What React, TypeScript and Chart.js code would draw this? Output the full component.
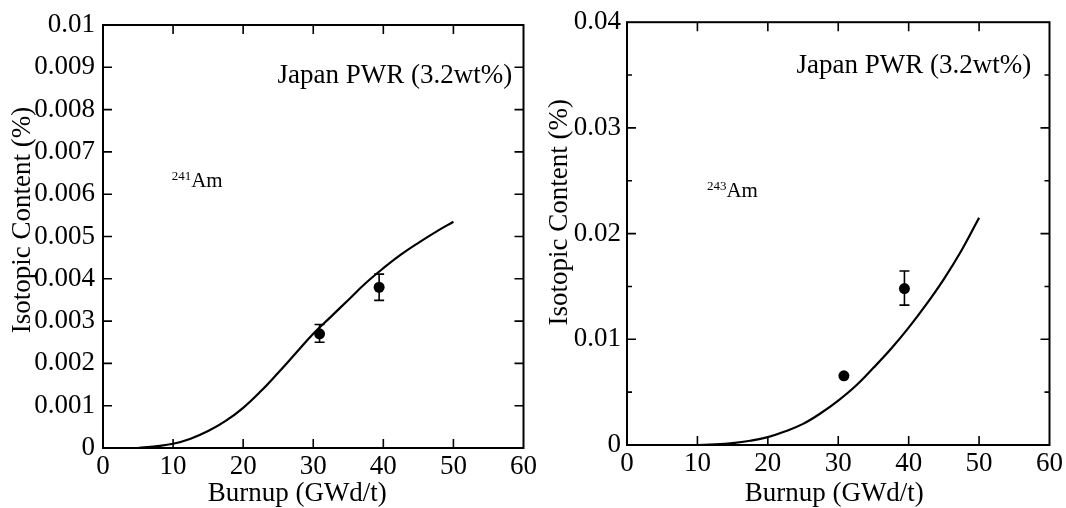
import React, { useEffect, useRef } from 'react';
import { Chart, registerables } from 'chart.js';

Chart.register(...registerables);

// ---- Data ----
const xTickValues = [0, 10, 20, 30, 40, 50, 60];

const am241CurveBurnup = [5, 7.5, 10, 12.5, 15, 17.5, 20, 22.5, 25, 27.5, 30, 32.5, 35, 37.5, 40, 42.5, 45, 47.5, 50];
const am241CurveValues = [0.0, 0.00004, 0.0001, 0.00022, 0.0004, 0.00064, 0.00095, 0.00134, 0.00178, 0.00224, 0.0027, 0.0031, 0.0035, 0.0039, 0.00425, 0.00457, 0.00485, 0.00511, 0.00535];
const am241MeasuredBurnup = [30.9, 39.4];
const am241MeasuredValues = [0.0027, 0.0038];
const am241ErrLow = [0.0025, 0.00349];
const am241ErrHigh = [0.00292, 0.00411];

const am243CurveBurnup = [10, 12.5, 15, 17.5, 20, 22.5, 25, 27.5, 30, 32.5, 35, 37.5, 40, 42.5, 45, 47.5, 50];
const am243CurveValues = [0.0, 0.00005, 0.00017, 0.0004, 0.00075, 0.0013, 0.002, 0.003, 0.0042, 0.0056, 0.0073, 0.0091, 0.0111, 0.0133, 0.0157, 0.0184, 0.0215];
const am243MeasuredBurnup = [30.8, 39.4];
const am243MeasuredValues = [0.00655, 0.0148];
const am243ErrLow: (number | null)[] = [null, 0.01323];
const am243ErrHigh: (number | null)[] = [null, 0.01646];

const noteText = 'Japan PWR (3.2wt%)';
const xTitle = 'Burnup (GWd/t)';
const yTitle = 'Isotopic Content (%)';

const FONT = '"Liberation Serif", "Times New Roman", serif';
const TICK_SIZE = 27;
const TITLE_SIZE = 27;

type Panel = {
  width: number;
  area: { left: number; top: number; right: number; bottom: number };
  curveX: number[];
  curveY: number[];
  ptsX: number[];
  ptsY: number[];
  errLo: (number | null)[];
  errHi: (number | null)[];
  yMax: number;
  yStep: number;
  yLabelStep: number;
  yPad: number;
  mass: string;
  massPos: [number, number];
  notePos: [number, number];
  yTitleDx: number;
  yTitleDy: number;
  xTitleDx: number;
};

const panels: Panel[] = [
  {
    width: 540,
    area: { left: 103, top: 25, right: 525, bottom: 448 },
    curveX: am241CurveBurnup,
    curveY: am241CurveValues,
    ptsX: am241MeasuredBurnup,
    ptsY: am241MeasuredValues,
    errLo: am241ErrLow,
    errHi: am241ErrHigh,
    yMax: 0.01,
    yStep: 0.001,
    yLabelStep: 0.001,
    yPad: 8,
    mass: '241',
    massPos: [9.8, 0.00617],
    notePos: [58.4, 0.00863],
    yTitleDx: -80,
    yTitleDy: 195,
    xTitleDx: -16,
  },
  {
    width: 526,
    area: { left: 87, top: 20, right: 510, bottom: 445 },
    curveX: am243CurveBurnup,
    curveY: am243CurveValues,
    ptsX: am243MeasuredBurnup,
    ptsY: am243MeasuredValues,
    errLo: am243ErrLow,
    errHi: am243ErrHigh,
    yMax: 0.04,
    yStep: 0.005,
    yLabelStep: 0.01,
    yPad: 6,
    mass: '243',
    massPos: [11.35, 0.02343],
    notePos: [57.4, 0.0352],
    yTitleDx: -67,
    yTitleDy: 190,
    xTitleDx: -4,
  },
];

const H = 508;

function fmt(v: number) {
  return String(Number(v.toFixed(6)));
}

function PanelChart({ p }: { p: Panel }) {
  const ref = useRef<HTMLCanvasElement | null>(null);

  useEffect(() => {
    if (!ref.current) return;
    const isLabeled = (v: number) => {
      const r = v / p.yLabelStep;
      return Math.abs(r - Math.round(r)) < 1e-6;
    };

    const framePlugin = {
      id: 'frame' + p.mass,
      afterDatasetsDraw(chart: any) {
        const ctx = chart.ctx as CanvasRenderingContext2D;
        const xs = chart.scales.x;
        const ys = chart.scales.y;
        ctx.save();
        ctx.strokeStyle = '#000';
        ctx.lineWidth = 1.6;
        p.ptsX.forEach((bx, i) => {
          const lo = p.errLo[i];
          const hi = p.errHi[i];
          if (lo == null || hi == null) return;
          const px = xs.getPixelForValue(bx);
          const pl = ys.getPixelForValue(lo);
          const ph = ys.getPixelForValue(hi);
          ctx.beginPath();
          ctx.moveTo(px, pl);
          ctx.lineTo(px, ph);
          ctx.moveTo(px - 5, pl);
          ctx.lineTo(px + 5, pl);
          ctx.moveTo(px - 5, ph);
          ctx.lineTo(px + 5, ph);
          ctx.stroke();
        });
        ctx.restore();
      },
      afterDraw(chart: any) {
        const ctx = chart.ctx as CanvasRenderingContext2D;
        const a = chart.chartArea;
        const xs = chart.scales.x;
        const ys = chart.scales.y;
        ctx.save();
        ctx.strokeStyle = '#000';
        ctx.lineWidth = 2;
        ctx.strokeRect(a.left, a.top, a.right - a.left, a.bottom - a.top);
        ctx.beginPath();
        ctx.lineWidth = 1.6;
        xs.ticks.forEach((t: any) => {
          if (t.value <= xs.min || t.value >= xs.max) return;
          const px = xs.getPixelForValue(t.value);
          ctx.moveTo(px, a.bottom);
          ctx.lineTo(px, a.bottom - 9);
          ctx.moveTo(px, a.top);
          ctx.lineTo(px, a.top + 9);
        });
        ys.ticks.forEach((t: any) => {
          if (t.value <= ys.min + 1e-9 || t.value >= ys.max - 1e-9) return;
          const py = ys.getPixelForValue(t.value);
          const len = isLabeled(t.value) ? 9 : 5;
          ctx.moveTo(a.left, py);
          ctx.lineTo(a.left + len, py);
          ctx.moveTo(a.right, py);
          ctx.lineTo(a.right - len, py);
        });
        ctx.stroke();

        ctx.fillStyle = '#000';
        ctx.font = `${TITLE_SIZE}px ${FONT}`;
        ctx.textAlign = 'right';
        ctx.textBaseline = 'alphabetic';
        ctx.fillText(noteText, xs.getPixelForValue(p.notePos[0]), ys.getPixelForValue(p.notePos[1]));
        const mx = xs.getPixelForValue(p.massPos[0]);
        const my = ys.getPixelForValue(p.massPos[1]);
        ctx.textAlign = 'left';
        ctx.font = `13px ${FONT}`;
        ctx.fillText(p.mass, mx, my - 7);
        const sw = ctx.measureText(p.mass).width;
        ctx.font = `21px ${FONT}`;
        ctx.fillText('Am', mx + sw, my);
        ctx.font = `${TITLE_SIZE}px ${FONT}`;
        ctx.textAlign = 'center';
        ctx.fillText(xTitle, (a.left + a.right) / 2 + p.xTitleDx, 501);
        ctx.save();
        ctx.translate(a.left + p.yTitleDx, a.top + p.yTitleDy);
        ctx.rotate(-Math.PI / 2);
        ctx.textBaseline = 'middle';
        ctx.textAlign = 'center';
        ctx.fillText(yTitle, 0, 0);
        ctx.restore();
        ctx.restore();
      },
    };

    const chart = new Chart(ref.current, {
      type: 'scatter',
      data: {
        datasets: [
          {
            data: p.curveX.map((x, i) => ({ x, y: p.curveY[i] })),
            showLine: true,
            borderColor: '#000',
            borderWidth: 2.2,
            pointRadius: 0,
            tension: 0.4,
          } as any,
          {
            data: p.ptsX.map((x, i) => ({ x, y: p.ptsY[i] })),
            backgroundColor: '#000',
            borderColor: '#000',
            pointRadius: 5.5,
            borderWidth: 0,
          },
        ],
      },
      options: {
        animation: false,
        responsive: false,
        layout: { padding: { top: p.area.top, right: p.width - p.area.right, left: 0, bottom: 0 } },
        plugins: { legend: { display: false }, tooltip: { enabled: false } },
        scales: {
          x: {
            type: 'linear',
            min: 0,
            max: 60,
            afterBuildTicks: (s: any) => {
              s.ticks = xTickValues.map((v) => ({ value: v }));
            },
            ticks: {
              autoSkip: false,
              maxRotation: 0,
              color: '#000',
              padding: 3,
              font: { family: FONT, size: TICK_SIZE },
              callback: (v: any) => fmt(Number(v)),
            },
            grid: { display: false, drawTicks: false },
            border: { display: false },
            afterFit: (s: any) => {
              s.height = H - p.area.bottom;
            },
          },
          y: {
            type: 'linear',
            min: 0,
            max: p.yMax,
            ticks: {
              stepSize: p.yStep,
              autoSkip: false,
              color: '#000',
              padding: p.yPad,
              font: { family: FONT, size: TICK_SIZE },
              callback: (v: any) => (isLabeled(Number(v)) ? fmt(Number(v)) : ''),
            },
            grid: { display: false, drawTicks: false },
            border: { display: false },
            afterFit: (s: any) => {
              s.width = p.area.left;
            },
          },
        },
      } as any,
      plugins: [framePlugin],
    });
    return () => chart.destroy();
  }, [p]);

  return <canvas ref={ref} width={p.width} height={H} style={{ width: p.width, height: H, display: 'block' }} />;
}

export default function App() {
  return (
    <div style={{ position: 'absolute', left: 0, top: 0, width: 1066, height: 508, background: '#fff', display: 'flex' }}>
      <PanelChart p={panels[0]} />
      <PanelChart p={panels[1]} />
    </div>
  );
}
